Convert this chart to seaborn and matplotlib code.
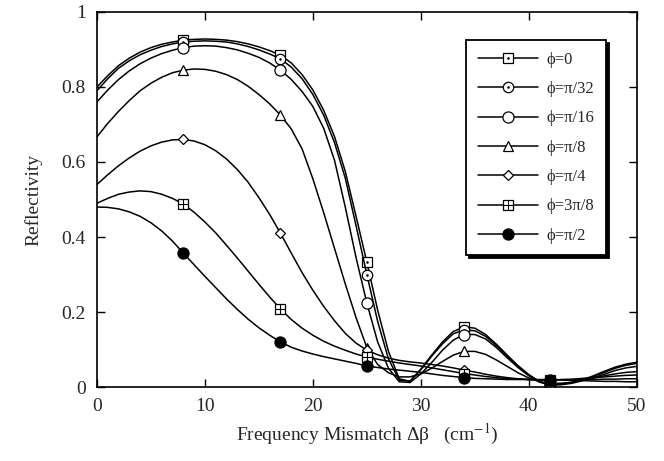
import seaborn as sns
import matplotlib.pyplot as plt
from matplotlib.legend_handler import HandlerTuple

# x grid (cm^-1), one point per unit, and reflectivity
x = list(range(0, 51))

phi_0 = [.800, .830, .857, .877, .893, .905, .914, .920, .925, .927, .928, .927, .925, .921, .915, .907, .897,
         .885, .864, .833, .792, .738, .668, .575, .455, .333, .205, .095, .022, .015, .048, .085, .120, .148,
         .160, .157, .140, .114, .085, .057, .033, .014, .006, .008, .012, .020, .030, .042, .053, .061, .066]
phi_pi32 = [.790, .822, .850, .870, .886, .898, .908, .915, .920, .922, .923, .922, .920, .915, .908, .899, .888,
            .875, .853, .822, .780, .725, .652, .557, .430, .300, .175, .075, .018, .016, .046, .082, .115, .142,
            .152, .150, .135, .110, .082, .055, .032, .014, .007, .008, .012, .019, .028, .039, .050, .058, .063]
phi_pi16 = [.760, .792, .820, .843, .862, .877, .889, .898, .905, .909, .910, .909, .905, .899, .890, .879, .864,
            .845, .820, .788, .748, .690, .605, .480, .345, .224, .120, .050, .014, .012, .035, .065, .098, .125,
            .140, .140, .128, .105, .078, .052, .030, .013, .005, .006, .010, .017, .025, .034, .044, .051, .055]
phi_pi8 = [.667, .703, .735, .764, .790, .810, .826, .838, .845, .848, .847, .842, .833, .820, .802, .780, .755,
           .725, .688, .635, .555, .465, .370, .275, .185, .105, .060, .038, .027, .027, .035, .050, .068, .085,
           .095, .095, .087, .072, .055, .038, .024, .014, .010, .010, .013, .018, .024, .030, .035, .039, .041]
phi_pi4 = [.540, .566, .590, .611, .629, .643, .653, .659, .660, .656, .646, .630, .608, .580, .546, .505, .460,
           .410, .357, .305, .258, .215, .177, .143, .117, .098, .086, .077, .071, .067, .064, .060, .056, .051,
           .045, .040, .034, .029, .025, .022, .020, .019, .019, .020, .021, .023, .025, .027, .029, .031, .032]
phi_3pi8 = [.490, .503, .514, .520, .523, .521, .514, .503, .488, .466, .440, .411, .378, .344, .309, .274, .240,
            .208, .180, .157, .138, .122, .109, .098, .088, .080, .074, .069, .064, .060, .056, .051, .046, .041,
            .036, .032, .028, .025, .022, .021, .020, .019, .019, .019, .019, .020, .020, .021, .021, .022, .022]
phi_pi2 = [.480, .479, .475, .467, .455, .438, .416, .389, .357, .326, .295, .265, .235, .207, .181, .158, .138,
           .120, .106, .096, .088, .081, .075, .069, .063, .056, .052, .048, .045, .042, .039, .035, .031, .028,
           .025, .023, .022, .021, .020, .020, .020, .020, .020, .019, .018, .017, .016, .015, .015, .014, .014]

labels = ["ϕ=0", "ϕ=π/32", "ϕ=π/16", "ϕ=π/8", "ϕ=π/4", "ϕ=3π/8", "ϕ=π/2"]
series = [phi_0, phi_pi32, phi_pi16, phi_pi8, phi_pi4, phi_3pi8, phi_pi2]
markers = ["s", "o", "o", "^", "D", "s", "o"]
msizes = [7, 7.5, 8, 6.5, 5.5, 7, 8]
inner = [".", ".", None, None, None, "+", None]  # dot / cross drawn inside the marker
mark_x = [8, 17, 25, 34, 42]
mark_idx = [x.index(v) for v in mark_x]

sns.set_style("ticks")
plt.rcParams["font.family"] = ["Liberation Serif", "DejaVu Serif"]
plt.rcParams["mathtext.fontset"] = "stix"

fig = plt.figure(figsize=(6.64, 4.61), dpi=100)
ax = fig.add_axes([0.146, 0.1605, 0.813, 0.8135])

handles = []
for y, lab, m, ms, inn in zip(series, labels, markers, msizes, inner):
    face = "black" if lab == "ϕ=π/2" else "white"
    sns.lineplot(x=x, y=y, ax=ax, color="black", lw=1.1, marker=m, markersize=ms,
                 markevery=mark_idx, markerfacecolor=face, markeredgecolor="black",
                 markeredgewidth=0.9, sort=False, estimator=None)
    h = [ax.get_lines()[-1]]
    if inn is not None:
        ax.plot(mark_x, [y[i] for i in mark_idx], ls="none", marker=inn, color="black",
                markersize=2 if inn == "." else ms, markeredgewidth=0.8)
        h.append(ax.get_lines()[-1])
    handles.append(tuple(h))

ax.set_xlim(0, 50)
ax.set_ylim(0, 1)
ax.set_xticks([0, 10, 20, 30, 40, 50])
ax.set_yticks([0, 0.2, 0.4, 0.6, 0.8, 1])
ax.set_yticklabels(["0", "0.2", "0.4", "0.6", "0.8", "1"])
ax.tick_params(direction="in", top=True, right=True, length=6, width=1,
               labelsize=14, pad=8, color="black")
for s in ax.spines.values():
    s.set_linewidth(1.2)
    s.set_color("black")

ax.set_xlabel("Frequency Mismatch Δβ   (cm$^{-1}$)", fontsize=14, labelpad=5)
ax.set_ylabel("Reflectivity", fontsize=14, labelpad=14)

leg = ax.legend(handles, labels, handler_map={tuple: HandlerTuple()},
                loc="upper right", bbox_to_anchor=(0.943, 0.925), borderaxespad=0,
                fontsize=12, handlelength=3.6, labelspacing=0.8, borderpad=0.7,
                handletextpad=0.5, frameon=True, fancybox=False,
                shadow={"color": "black", "alpha": 1}, edgecolor="black")
leg.get_frame().set_linewidth(1.3)

fig.savefig("out.png", dpi=100)
